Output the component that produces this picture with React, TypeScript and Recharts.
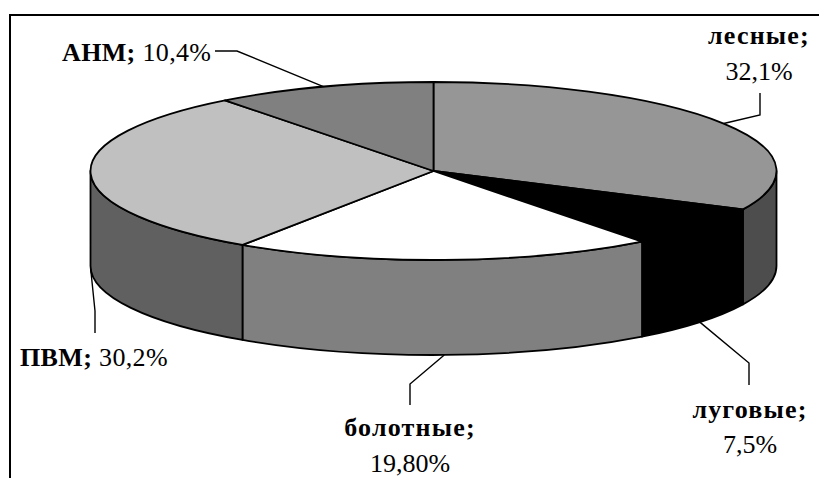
import React from 'react';
import { PieChart, Pie, Cell } from 'recharts';

// Доли типов земель
const names = ['лесные', 'луговые', 'болотные', 'ПВМ', 'АНМ'];
const shares = [32.1, 7.5, 19.8, 30.2, 10.4];
const shareLabels = ['32,1%', '7,5%', '19,80%', '30,2%', '10,4%'];

const topColors = ['#969696', '#000000', '#ffffff', '#c0c0c0', '#808080'];
const wallColors = ['#4d4d4d', '#000000', '#808080', '#606060', '#808080'];

const data = names.map((name, i) => ({ name, value: shares[i] }));

const CX = 433.5;
const CY = 171;
const RADIUS = 343;
const TILT = 0.2595; // ry / rx
const DEPTH = 95;
const FONT = '"Liberation Serif", serif';
const FONT_SIZE = 26;

const point = (cx: number, cy: number, r: number, angle: number) => {
    const a = (angle * Math.PI) / 180;
    return { x: cx + r * Math.cos(a), y: cy - r * TILT * Math.sin(a) };
};

// Top face: a pie sector squashed to an ellipse
function TopSlice(props: any) {
    const { cx, cy, outerRadius: r, startAngle, endAngle, fill } = props;
    const p1 = point(cx, cy, r, startAngle);
    const p2 = point(cx, cy, r, endAngle);
    const large = Math.abs(startAngle - endAngle) > 180 ? 1 : 0;
    const d = `M${cx},${cy} L${p1.x},${p1.y} A${r},${r * TILT} 0 ${large} 1 ${p2.x},${p2.y} Z`;
    return <path d={d} fill={fill} stroke="#000" strokeWidth={1.8} strokeLinejoin="round" />;
}

// Side wall, only the front half of the disc is visible
function WallSlice(props: any) {
    const { cx, cy, outerRadius: r, startAngle, endAngle, fill } = props;
    const from = Math.min(startAngle, 0);
    const to = Math.max(endAngle, -180);
    if (from <= to) return null;
    const p1 = point(cx, cy, r, from);
    const p2 = point(cx, cy, r, to);
    const ry = r * TILT;
    const d =
        `M${p1.x},${p1.y} A${r},${ry} 0 0 1 ${p2.x},${p2.y} ` +
        `L${p2.x},${p2.y + DEPTH} A${r},${ry} 0 0 0 ${p1.x},${p1.y + DEPTH} Z`;
    return <path d={d} fill={fill} stroke="#000" strokeWidth={1.8} strokeLinejoin="round" />;
}

// Label placement per slice: leader bends and text anchor
const labelLayout = [
    { bends: [[760, 115], [760, 93]], onWall: false, x: 759, y: 44, y2: 80, inline: false },
    { bends: [[749, 363], [749, 385]], onWall: true, x: 750, y: 418, y2: 453, inline: false },
    { bends: [[410, 384], [410, 405]], onWall: true, x: 410, y: 436, y2: 472, inline: false },
    { bends: [[95, 311], [95, 333]], onWall: true, x: 20, y: 366, y2: 366, inline: true },
    { bends: [[237, 51], [215, 51]], onWall: false, x: 62, y: 61, y2: 61, inline: true },
];

function SliceLabel(props: any) {
    const { index, midAngle, cx, cy, outerRadius: r } = props;
    const layout = labelLayout[index];
    const start = point(cx, cy, r, midAngle);
    const startY = layout.onWall ? start.y + DEPTH : start.y;
    const pts = [[start.x, startY], ...layout.bends].map((p) => p.join(',')).join(' ');
    const textProps = { fontFamily: FONT, fontSize: FONT_SIZE, fill: '#000' };
    return (
        <g>
            <polyline points={pts} fill="none" stroke="#000" strokeWidth={1.4} />
            {layout.inline ? (
                <text x={layout.x} y={layout.y} letterSpacing={0.35} {...textProps}>
                    <tspan fontWeight="bold">{names[index]};</tspan> {shareLabels[index]}
                </text>
            ) : (
                <>
                    <text x={layout.x} y={layout.y} textAnchor="middle" fontWeight="bold" letterSpacing={1.2} {...textProps}>
                        {names[index]};
                    </text>
                    <text x={layout.x} y={layout.y2} textAnchor="middle" {...textProps}>
                        {shareLabels[index]}
                    </text>
                </>
            )}
        </g>
    );
}

export default function App() {
    return (
        <div style={{ position: 'absolute', left: 0, top: 0, width: 819, height: 478, background: '#fff', overflow: 'hidden' }}>
            {/* Chart frame, open to the right and bottom */}
            <div style={{ position: 'absolute', left: 9, top: 14, right: 0, bottom: 0, borderTop: '2px solid #000', borderLeft: '2px solid #000' }} />
            <div style={{ position: 'absolute', left: 0, top: 0 }}>
                <PieChart width={819} height={478} margin={{ top: 0, right: 0, bottom: 0, left: 0 }}>
                    <Pie
                        data={data}
                        dataKey="value"
                        cx={CX}
                        cy={CY}
                        outerRadius={RADIUS}
                        startAngle={90}
                        endAngle={-270}
                        shape={WallSlice}
                        isAnimationActive={false}
                    >
                        {data.map((d, i) => (
                            <Cell key={d.name} fill={wallColors[i]} />
                        ))}
                    </Pie>
                    <Pie
                        data={data}
                        dataKey="value"
                        cx={CX}
                        cy={CY}
                        outerRadius={RADIUS}
                        startAngle={90}
                        endAngle={-270}
                        shape={TopSlice}
                        label={SliceLabel}
                        labelLine={false}
                        isAnimationActive={false}
                    >
                        {data.map((d, i) => (
                            <Cell key={d.name} fill={topColors[i]} />
                        ))}
                    </Pie>
                </PieChart>
            </div>
        </div>
    );
}
